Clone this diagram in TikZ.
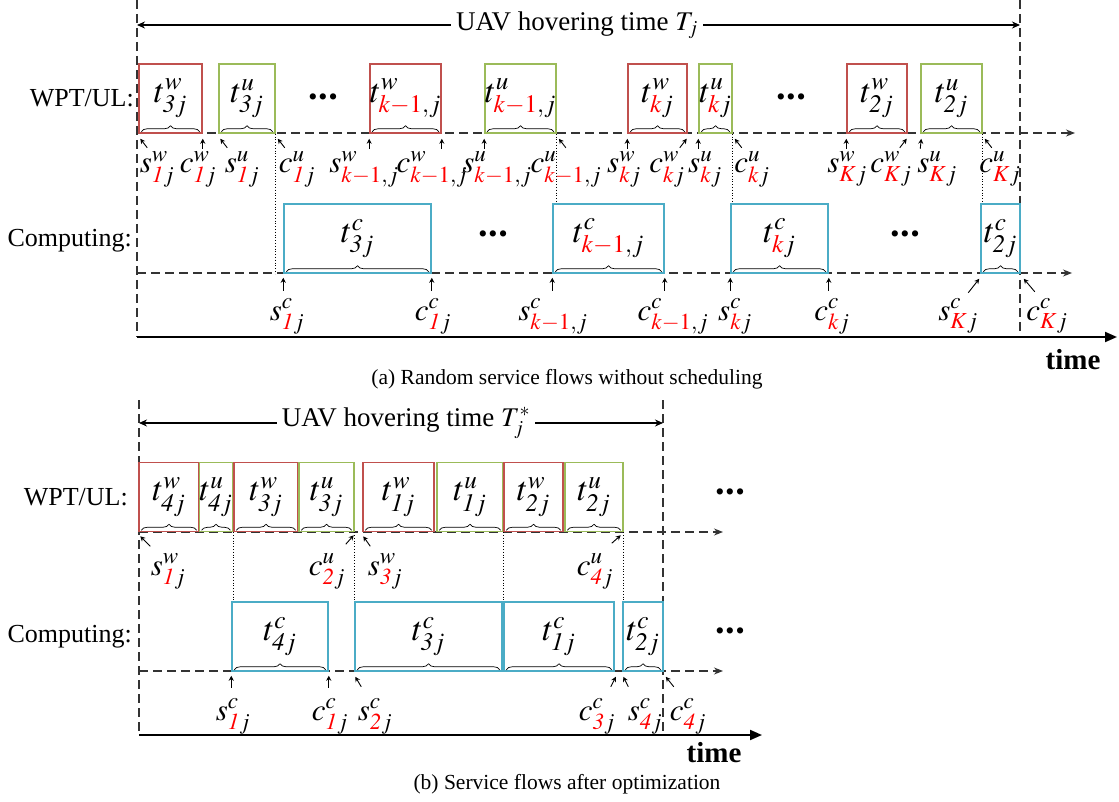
\documentclass[tikz,border=0pt]{standalone}
\usepackage{mathptmx}
\usepackage{fontspec}
\setmainfont{Liberation Serif}
\usepackage{xcolor}
\usepackage{tikz}
\usetikzlibrary{arrows.meta, calc, decorations.pathreplacing}
\definecolor{wptred}{HTML}{C0504D}
\definecolor{ulgreen}{HTML}{9BBB59}
\definecolor{compblue}{HTML}{4BACC6}
\newcommand{\kred}[1]{\textcolor{red}{#1}}
\newcommand{\bigdots}{\textbullet\hspace{1pt}\textbullet\hspace{1pt}\textbullet}
\tikzstyle{wbox} = [rectangle, draw=wptred, line width=1.5pt, minimum height=69pt, inner sep=0pt,
  font=\fontsize{34}{36}\selectfont]
\tikzstyle{ubox} = [rectangle, draw=ulgreen, line width=1.5pt, minimum height=69pt, inner sep=0pt,
  font=\fontsize{34}{36}\selectfont]
\tikzstyle{cbox} = [rectangle, draw=compblue, line width=1.5pt, minimum height=69pt, inner sep=0pt,
  font=\fontsize{34}{36}\selectfont]
\tikzstyle{lbl} = [anchor=base, inner sep=0pt, font=\fontsize{31}{34}\selectfont]
\tikzstyle{rowlbl} = [anchor=east, inner sep=0pt, font=\fontsize{26}{28}\selectfont]
\tikzstyle{ttl} = [inner sep=5pt, font=\fontsize{27}{30}\selectfont]
\tikzstyle{ellip} = [inner sep=0pt, font=\fontsize{26}{26}\selectfont]
\tikzstyle{timelbl} = [inner sep=0pt, font=\fontsize{29}{31}\selectfont\bfseries]
\tikzstyle{subcap} = [inner sep=0pt, font=\fontsize{21.5}{24}\selectfont]
\tikzstyle{vline} = [dash pattern=on 9pt off 5pt, line width=1.1pt, black!80]
\tikzstyle{dashline} = [dash pattern=on 9pt off 5pt, line width=1.1pt, black!80, -{Stealth[length=9pt,width=7pt]}]
\tikzstyle{timeaxis} = [line width=2pt, -{Triangle[length=12pt,width=10pt]}]
\tikzstyle{hov} = [line width=1.1pt, -{Stealth[length=8pt,width=7pt]}]
\tikzstyle{ptr} = [line width=0.9pt, -{Stealth[length=5pt,width=5pt]}]
\tikzstyle{dotline} = [dotted, line width=0.8pt]
\tikzstyle{brc} = [decorate, decoration={brace, amplitude=6pt}, line width=0.7pt]

\begin{document}
\begin{tikzpicture}[x=1pt, y=-1pt]
  \useasboundingbox (0,0) rectangle (1119,802);

  % (a) without scheduling
  \coordinate (aTL) at (137,0);
  \coordinate (aBL) at (137,337);
  \coordinate (aTR) at (1020,0);
  \coordinate (aBR) at (1020,337);
  \coordinate (aEnd) at (1117,337);
  \coordinate (wEndA) at (1075,133);
  \coordinate (cEndA) at (1072,273);

  \node (hovA) [ttl] at (577,25) {UAV hovering time $T_j$};
  \draw[vline] (aTL) -- (aBL);
  \draw[vline] (aTR) -- (aBR);
  \draw[hov] (hovA.west) -- (hovA.west -| aTL);
  \draw[hov] (hovA.east) -- (hovA.east -| aTR);
  \draw[dashline] (aTL |- wEndA) -- (wEndA);
  \draw[dashline] (aTL |- cEndA) -- (cEndA);
  \draw[timeaxis] (aBL) -- (aEnd);

  \node (wptA) [rowlbl] at (134,98) {WPT/UL:};
  \node (compA) [rowlbl] at (132,241) {Computing:};

  \node (w3a) [wbox, minimum width=63] at (170.5,98.5) {$t^{w}_{\mathit{3}j}$};
  \node (u3a) [ubox, minimum width=56] at (247,98.5) {$t^{u}_{\mathit{3}j}$};
  \node (wk1a) [wbox, minimum width=71] at (405.5,98.5) {$t^{w}_{\kred{k-1},j}$};
  \node (uk1a) [ubox, minimum width=69] at (520.5,98.5) {$t^{u}_{\kred{k-1},j}$};
  \node (wka) [wbox, minimum width=59] at (657.5,98.5) {$t^{w}_{\kred{k}j}$};
  \node (uka) [ubox, minimum width=33] at (715.5,98.5) {$t^{u}_{\kred{k}j}$};
  \node (w2a) [wbox, minimum width=60] at (877,98.5) {$t^{w}_{\mathit{2}j}$};
  \node (u2a) [ubox, minimum width=61] at (951.5,98.5) {$t^{u}_{\mathit{2}j}$};
  \node (dw1a) [ellip] at (323,100) {\bigdots};
  \node (dw2a) [ellip] at (791,100) {\bigdots};

  \node (c3a) [cbox, minimum width=147] at (357.5,238.5) {$t^{c}_{\mathit{3}j}$};
  \node (ck1a) [cbox, minimum width=111] at (608.5,238.5) {$t^{c}_{\kred{k-1},j}$};
  \node (cka) [cbox, minimum width=97] at (779.5,238.5) {$t^{c}_{\kred{k}j}$};
  \node (c2a) [cbox, minimum width=39] at (1000.5,238.5) {$t^{c}_{\mathit{2}j}$};
  \node (dc1a) [ellip] at (493,237) {\bigdots};
  \node (dc2a) [ellip] at (905,237) {\bigdots};

  \draw[brc] ([xshift=3pt,yshift=2pt]w3a.south west) -- ([xshift=-3pt,yshift=2pt]w3a.south east);
  \draw[brc] ([xshift=3pt,yshift=2pt]u3a.south west) -- ([xshift=-3pt,yshift=2pt]u3a.south east);
  \draw[brc] ([xshift=3pt,yshift=2pt]wk1a.south west) -- ([xshift=-3pt,yshift=2pt]wk1a.south east);
  \draw[brc] ([xshift=3pt,yshift=2pt]uk1a.south west) -- ([xshift=-3pt,yshift=2pt]uk1a.south east);
  \draw[brc] ([xshift=3pt,yshift=2pt]wka.south west) -- ([xshift=-3pt,yshift=2pt]wka.south east);
  \draw[brc] ([xshift=3pt,yshift=2pt]uka.south west) -- ([xshift=-3pt,yshift=2pt]uka.south east);
  \draw[brc] ([xshift=3pt,yshift=2pt]w2a.south west) -- ([xshift=-3pt,yshift=2pt]w2a.south east);
  \draw[brc] ([xshift=3pt,yshift=2pt]u2a.south west) -- ([xshift=-3pt,yshift=2pt]u2a.south east);
  \draw[brc] ([xshift=3pt,yshift=2pt]c3a.south west) -- ([xshift=-3pt,yshift=2pt]c3a.south east);
  \draw[brc] ([xshift=3pt,yshift=2pt]ck1a.south west) -- ([xshift=-3pt,yshift=2pt]ck1a.south east);
  \draw[brc] ([xshift=3pt,yshift=2pt]cka.south west) -- ([xshift=-3pt,yshift=2pt]cka.south east);
  \draw[brc] ([xshift=3pt,yshift=2pt]c2a.south west) -- ([xshift=-3pt,yshift=2pt]c2a.south east);

  \draw[dotline] (u3a.south east) -- (u3a.south east |- c3a.south);
  \draw[dotline] (uk1a.south east) -- (uk1a.south east |- ck1a.north);
  \draw[dotline] (uka.south east) -- (uka.south east |- cka.north);
  \draw[dotline] (u2a.south east) -- (u2a.south east |- c2a.north);

  \node (sw1a) [lbl] at (157,173) {$s^{w}_{\kred{\mathit{1}}j}$};
  \node (cw1a) [lbl] at (198,173) {$c^{w}_{\kred{\mathit{1}}j}$};
  \node (su1a) [lbl] at (242,173) {$s^{u}_{\kred{\mathit{1}}j}$};
  \node (cu1a) [lbl] at (297,173) {$c^{u}_{\kred{\mathit{1}}j}$};
  \node (swk1a) [lbl] at (364,173) {$s^{w}_{\kred{k-1},j}$};
  \node (cwk1a) [lbl] at (432,173) {$c^{w}_{\kred{k-1},j}$};
  \node (suk1a) [lbl] at (497,173) {$s^{u}_{\kred{k-1},j}$};
  \node (cuk1a) [lbl] at (566,173) {$c^{u}_{\kred{k-1},j}$};
  \node (swka) [lbl] at (624,173) {$s^{w}_{\kred{k}j}$};
  \node (cwka) [lbl] at (667,173) {$c^{w}_{\kred{k}j}$};
  \node (suka) [lbl] at (705,173) {$s^{u}_{\kred{k}j}$};
  \node (cuka) [lbl] at (752,173) {$c^{u}_{\kred{k}j}$};
  \node (swKa) [lbl] at (847,173) {$s^{w}_{\kred{K}j}$};
  \node (cwKa) [lbl] at (891,173) {$c^{w}_{\kred{K}j}$};
  \node (suKa) [lbl] at (937,173) {$s^{u}_{\kred{K}j}$};
  \node (cuKa) [lbl] at (1000,173) {$c^{u}_{\kred{K}j}$};

  \draw[ptr] ($(w3a.south west)+(9,14)$) -- ($(w3a.south west)+(2,5)$);
  \draw[ptr] ($(w3a.south east)+(0,15)$) -- ($(w3a.south east)+(0,5)$);
  \draw[ptr] ($(u3a.south west)+(9,14)$) -- ($(u3a.south west)+(2,5)$);
  \draw[ptr] ($(u3a.south east)+(9,14)$) -- ($(u3a.south east)+(2,5)$);
  \draw[ptr] ($(wk1a.south west)+(0,15)$) -- ($(wk1a.south west)+(0,5)$);
  \draw[ptr] ($(wk1a.south east)+(0,15)$) -- ($(wk1a.south east)+(0,5)$);
  \draw[ptr] ($(uk1a.south west)+(0,15)$) -- ($(uk1a.south west)+(0,5)$);
  \draw[ptr] ($(uk1a.south east)+(9,14)$) -- ($(uk1a.south east)+(2,5)$);
  \draw[ptr] ($(wka.south west)+(0,15)$) -- ($(wka.south west)+(0,5)$);
  \draw[ptr] ($(wka.south east)+(-8,14)$) -- ($(wka.south east)+(-1,5)$);
  \draw[ptr] ($(uka.south west)+(0,15)$) -- ($(uka.south west)+(0,5)$);
  \draw[ptr] ($(uka.south east)+(9,14)$) -- ($(uka.south east)+(2,5)$);
  \draw[ptr] ($(w2a.south west)+(0,15)$) -- ($(w2a.south west)+(0,5)$);
  \draw[ptr] ($(w2a.south east)+(-8,14)$) -- ($(w2a.south east)+(-1,5)$);
  \draw[ptr] ($(u2a.south west)+(0,15)$) -- ($(u2a.south west)+(1,5)$);
  \draw[ptr] ($(u2a.south east)+(9,14)$) -- ($(u2a.south east)+(2,5)$);

  \node (sc1a) [lbl] at (287,320) {$s^{c}_{\kred{\mathit{1}}j}$};
  \node (cc1a) [lbl] at (433,320) {$c^{c}_{\kred{\mathit{1}}j}$};
  \node (sck1a) [lbl] at (553,320) {$s^{c}_{\kred{k-1},j}$};
  \node (cck1a) [lbl] at (673,320) {$c^{c}_{\kred{k-1},j}$};
  \node (scka) [lbl] at (735,320) {$s^{c}_{\kred{k}j}$};
  \node (ccka) [lbl] at (832,320) {$c^{c}_{\kred{k}j}$};
  \node (scKa) [lbl] at (958,320) {$s^{c}_{\kred{K}j}$};
  \node (ccKa) [lbl] at (1047,320) {$c^{c}_{\kred{K}j}$};

  \draw[ptr] ($(c3a.south west)+(0,17)$) -- ($(c3a.south west)+(0,4)$);
  \draw[ptr] ($(c3a.south east)+(0,17)$) -- ($(c3a.south east)+(0,4)$);
  \draw[ptr] ($(ck1a.south west)+(0,17)$) -- ($(ck1a.south west)+(0,4)$);
  \draw[ptr] ($(ck1a.south east)+(0,17)$) -- ($(ck1a.south east)+(0,4)$);
  \draw[ptr] ($(cka.south west)+(0,17)$) -- ($(cka.south west)+(0,4)$);
  \draw[ptr] ($(cka.south east)+(0,17)$) -- ($(cka.south east)+(0,4)$);
  \draw[ptr] ($(c2a.south west)+(-12,19)$) -- ($(c2a.south west)+(-1,5)$);
  \draw[ptr] ($(c2a.south east)+(14,18)$) -- ($(c2a.south east)+(3,5)$);

  \node (timeA) [timelbl] at (1073,360) {time};
  \node (capA) [subcap] at (567,379) {(a) Random service flows without scheduling};

  % (b) after optimization
  \coordinate (bTL) at (139,400);
  \coordinate (bBL) at (139,735);
  \coordinate (bTR) at (663,400);
  \coordinate (bBR) at (663,735);
  \coordinate (bEnd) at (762,735);
  \coordinate (wEndB) at (723,532);
  \coordinate (cEndB) at (723,671);

  \node (hovB) [ttl] at (406,423) {UAV hovering time $T_j^{*}$};
  \draw[vline] (bTL) -- (bBL);
  \draw[vline] (bTR) -- (bBR);
  \draw[hov] (hovB.west) -- (hovB.west -| bTL);
  \draw[hov] (hovB.east) -- (hovB.east -| bTR);
  \draw[dashline] (bTL |- wEndB) -- (wEndB);
  \draw[dashline] (bTL |- cEndB) -- (cEndB);
  \draw[timeaxis] (bBL) -- (bEnd);

  \node (wptB) [rowlbl] at (128,497) {WPT/UL:};
  \node (compB) [rowlbl] at (132,637) {Computing:};

  \node (w4b) [wbox, minimum width=60] at (169,497) {$t^{w}_{\mathit{4}j}$};
  \node (u4b) [ubox, minimum width=32] at (216,497) {$t^{u}_{\mathit{4}j}$};
  \node (w3b) [wbox, minimum width=64] at (266,497) {$t^{w}_{\mathit{3}j}$};
  \node (u3b) [ubox, minimum width=55] at (326.5,497) {$t^{u}_{\mathit{3}j}$};
  \node (w1b) [wbox, minimum width=71] at (398.5,497) {$t^{w}_{\mathit{1}j}$};
  \node (u1b) [ubox, minimum width=66] at (470,497) {$t^{u}_{\mathit{1}j}$};
  \node (w2b) [wbox, minimum width=59] at (533.5,497) {$t^{w}_{\mathit{2}j}$};
  \node (u2b) [ubox, minimum width=58] at (594,497) {$t^{u}_{\mathit{2}j}$};
  \node (dwb) [ellip] at (730,495) {\bigdots};

  \node (c4b) [cbox, minimum width=96] at (280,636.5) {$t^{c}_{\mathit{4}j}$};
  \node (c3b) [cbox, minimum width=147] at (428.5,636.5) {$t^{c}_{\mathit{3}j}$};
  \node (c1b) [cbox, minimum width=110] at (559,636.5) {$t^{c}_{\mathit{1}j}$};
  \node (c2b) [cbox, minimum width=40] at (643,636.5) {$t^{c}_{\mathit{2}j}$};
  \node (dcb) [ellip] at (730,634) {\bigdots};

  \draw[brc] ([xshift=3pt,yshift=2pt]w4b.south west) -- ([xshift=-3pt,yshift=2pt]w4b.south east);
  \draw[brc] ([xshift=3pt,yshift=2pt]u4b.south west) -- ([xshift=-3pt,yshift=2pt]u4b.south east);
  \draw[brc] ([xshift=3pt,yshift=2pt]w3b.south west) -- ([xshift=-3pt,yshift=2pt]w3b.south east);
  \draw[brc] ([xshift=3pt,yshift=2pt]u3b.south west) -- ([xshift=-3pt,yshift=2pt]u3b.south east);
  \draw[brc] ([xshift=3pt,yshift=2pt]w1b.south west) -- ([xshift=-3pt,yshift=2pt]w1b.south east);
  \draw[brc] ([xshift=3pt,yshift=2pt]u1b.south west) -- ([xshift=-3pt,yshift=2pt]u1b.south east);
  \draw[brc] ([xshift=3pt,yshift=2pt]w2b.south west) -- ([xshift=-3pt,yshift=2pt]w2b.south east);
  \draw[brc] ([xshift=3pt,yshift=2pt]u2b.south west) -- ([xshift=-3pt,yshift=2pt]u2b.south east);
  \draw[brc] ([xshift=3pt,yshift=2pt]c4b.south west) -- ([xshift=-3pt,yshift=2pt]c4b.south east);
  \draw[brc] ([xshift=3pt,yshift=2pt]c3b.south west) -- ([xshift=-3pt,yshift=2pt]c3b.south east);
  \draw[brc] ([xshift=3pt,yshift=2pt]c1b.south west) -- ([xshift=-3pt,yshift=2pt]c1b.south east);
  \draw[brc] ([xshift=3pt,yshift=2pt]c2b.south west) -- ([xshift=-3pt,yshift=2pt]c2b.south east);

  \draw[dotline] (u4b.south east) -- (u4b.south east |- c4b.north);
  \draw[dotline] (u3b.south east) -- (u3b.south east |- c3b.north);
  \draw[dotline] (u1b.south east) -- (u1b.south east |- c1b.north);
  \draw[dotline] (u2b.south east) -- (u2b.south east |- c2b.north);

  \node (sw1b) [lbl] at (168,575) {$s^{w}_{\kred{\mathit{1}}j}$};
  \node (cu2b) [lbl] at (327,575) {$c^{u}_{\kred{\mathit{2}}j}$};
  \node (sw3b) [lbl] at (385,575) {$s^{w}_{\kred{\mathit{3}}j}$};
  \node (cu4b) [lbl] at (595,575) {$c^{u}_{\kred{\mathit{4}}j}$};

  \draw[ptr] ($(w4b.south west)+(12,14)$) -- ($(w4b.south west)+(2,4)$);
  \draw[ptr] ($(u3b.south east)+(-9,12)$) -- ($(u3b.south east)+(-1,3)$);
  \draw[ptr] ($(w1b.south west)+(8,14)$) -- ($(w1b.south west)+(1,4)$);
  \draw[ptr] ($(u2b.south east)+(-12,11)$) -- ($(u2b.south east)+(-3,3)$);

  \node (sc1b) [lbl] at (233,720) {$s^{c}_{\kred{\mathit{1}}j}$};
  \node (cc1b) [lbl] at (330,720) {$c^{c}_{\kred{\mathit{1}}j}$};
  \node (sc2b) [lbl] at (375,720) {$s^{c}_{\kred{\mathit{2}}j}$};
  \node (cc3b) [lbl] at (597,720) {$c^{c}_{\kred{\mathit{3}}j}$};
  \node (sc4b) [lbl] at (645,720) {$s^{c}_{\kred{\mathit{4}}j}$};
  \node (cc4b) [lbl] at (688,720) {$c^{c}_{\kred{\mathit{4}}j}$};

  \draw[ptr] ($(c4b.south west)+(0,16)$) -- ($(c4b.south west)+(0,4)$);
  \draw[ptr] ($(c4b.south east)+(0,16)$) -- ($(c4b.south east)+(0,4)$);
  \draw[ptr] ($(c3b.south west)+(7,15)$) -- ($(c3b.south west)+(1,5)$);
  \draw[ptr] ($(c1b.south east)+(-4,15)$) -- ($(c1b.south east)+(1,5)$);
  \draw[ptr] ($(c2b.south west)+(6,15)$) -- ($(c2b.south west)+(1,5)$);
  \draw[ptr] ($(c2b.south east)+(10,15)$) -- ($(c2b.south east)+(2,5)$);

  \node (timeB) [timelbl] at (714,753) {time};
  \node (capB) [subcap] at (567,784) {(b) Service flows after optimization};
\end{tikzpicture}
\end{document}
